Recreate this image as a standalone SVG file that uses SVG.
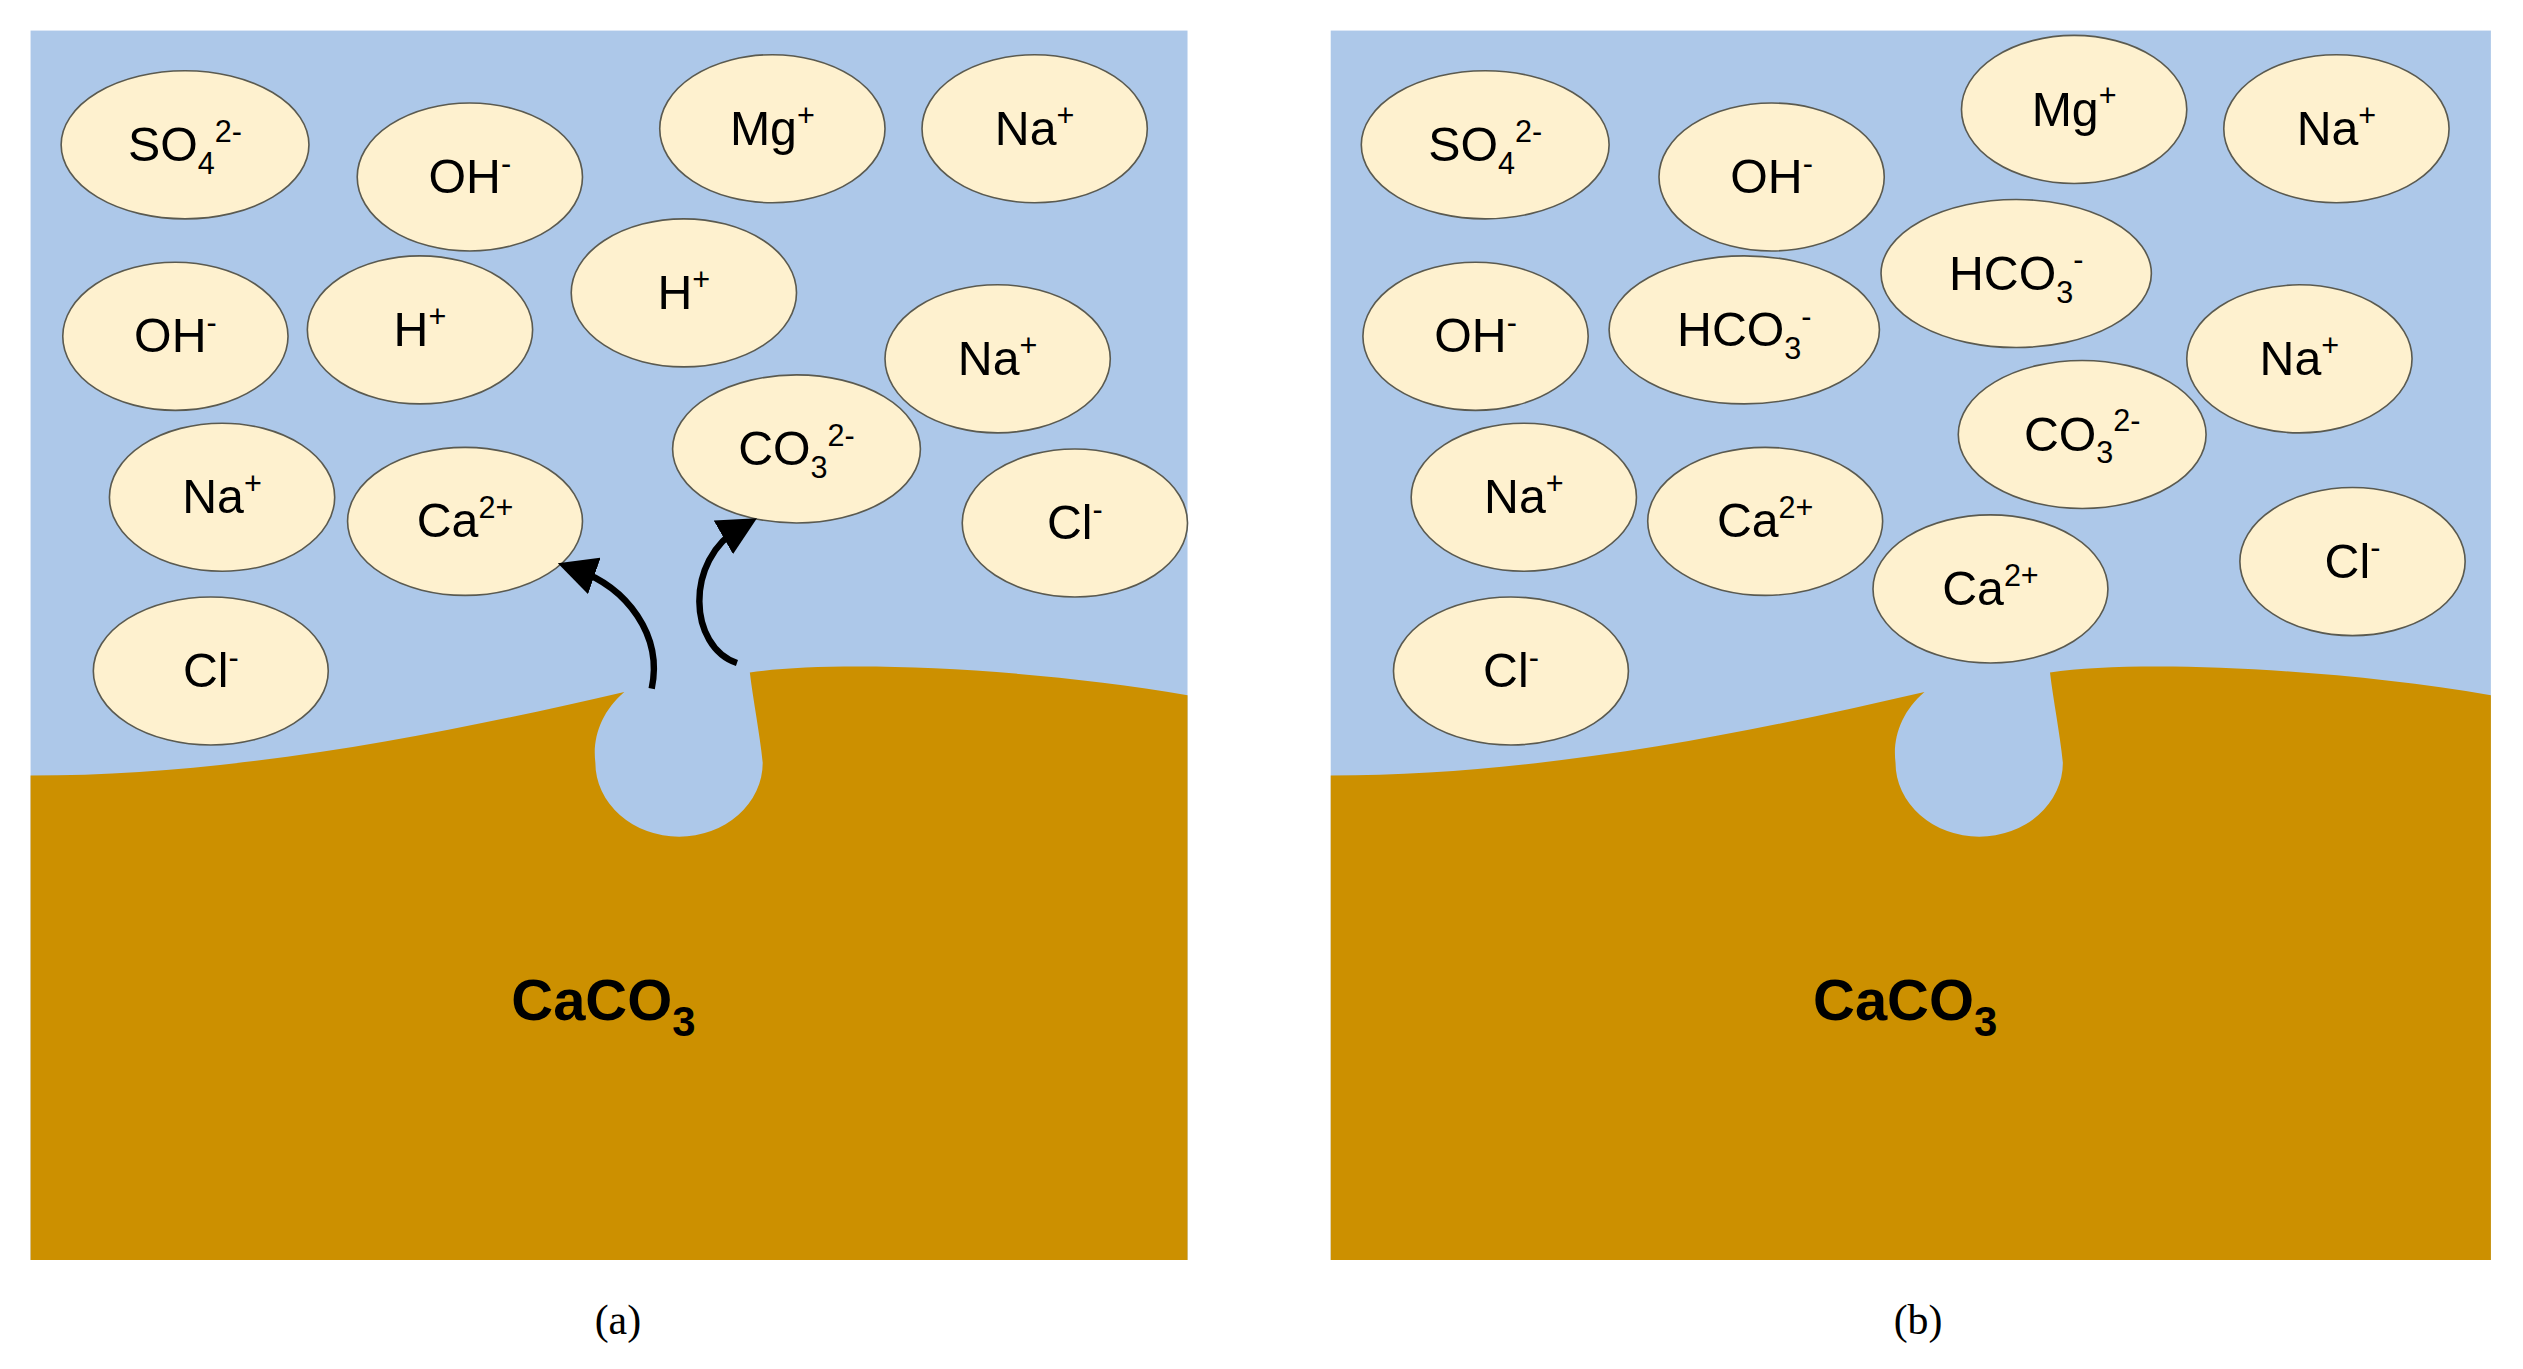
<svg xmlns="http://www.w3.org/2000/svg" width="2523" height="1369" viewBox="0 0 2523 1369">
<style>
.ion ellipse{fill:#fef1cf;stroke:#5a5a50;stroke-width:1}
.ion text{font-family:"Liberation Sans Narrow","Liberation Sans",Arial,sans-serif;font-size:30px;fill:#000;text-anchor:middle}
.s{font-size:19px}
.water{fill:#adc8e9}
.rock{fill:#cc9000}
.lbl{font-family:"Liberation Sans",Arial,sans-serif;font-weight:bold;font-size:36px;text-anchor:middle}
.cap{font-family:"Liberation Serif","Times New Roman",serif;font-size:26px;text-anchor:middle}
.arr{fill:none;stroke:#000;stroke-width:4;marker-end:url(#ah)}
</style>
<defs>
<marker id="ah" markerWidth="6" markerHeight="6" refX="3" refY="3" orient="auto" markerUnits="strokeWidth" viewBox="0 0 6 6"><path d="M0,0 L6,3 L0,6 Z" fill="#000"/></marker>
</defs>
<rect width="2523" height="1369" fill="#fff"/>
<g transform="scale(1.6091)">
<g id="panel-a">
<rect class="water" x="19" y="19" width="719" height="764"/>
<path class="rock" d="M19,482 C150,482 280,455 388,430 C374,442 368,458 370,474 A52,46 0 1 0 474,474 C472,455 468,435 466,418 C520,410 640,415 738,432 L738,783 L19,783 Z"/>
<text class="lbl" x="375" y="634">CaCO<tspan dy="10" font-size="26">3</tspan></text>
<text class="cap" x="384" y="829">(a)</text>
</g>
<g id="panel-b">
<rect class="water" x="827" y="19" width="721" height="764"/>
<path class="rock" d="M827,482 C958,482 1088,455 1196,430 C1182,442 1176,458 1178,474 A52,46 0 1 0 1282,474 C1280,455 1276,435 1274,418 C1328,410 1448,415 1548,432 L1548,783 L827,783 Z"/>
<text class="lbl" x="1184" y="634">CaCO<tspan dy="10" font-size="26">3</tspan></text>
<text class="cap" x="1192" y="829">(b)</text>
</g>
<g id="a-so4" class="ion"><ellipse cx="115" cy="90" rx="77" ry="46"/><text x="115" y="100">SO<tspan class="s" dy="8">4</tspan><tspan class="s" dy="-20">2-</tspan></text></g>
<g id="a-oh1" class="ion"><ellipse cx="292" cy="110" rx="70" ry="46"/><text x="292" y="120">OH<tspan class="s" dy="-12">-</tspan></text></g>
<g id="a-mg" class="ion"><ellipse cx="480" cy="80" rx="70" ry="46"/><text x="480" y="90">Mg<tspan class="s" dy="-12">+</tspan></text></g>
<g id="a-na1" class="ion"><ellipse cx="643" cy="80" rx="70" ry="46"/><text x="643" y="90">Na<tspan class="s" dy="-12">+</tspan></text></g>
<g id="a-oh2" class="ion"><ellipse cx="109" cy="209" rx="70" ry="46"/><text x="109" y="219">OH<tspan class="s" dy="-12">-</tspan></text></g>
<g id="a-h1" class="ion"><ellipse cx="261" cy="205" rx="70" ry="46"/><text x="261" y="215">H<tspan class="s" dy="-12">+</tspan></text></g>
<g id="a-h2" class="ion"><ellipse cx="425" cy="182" rx="70" ry="46"/><text x="425" y="192">H<tspan class="s" dy="-12">+</tspan></text></g>
<g id="a-na2" class="ion"><ellipse cx="620" cy="223" rx="70" ry="46"/><text x="620" y="233">Na<tspan class="s" dy="-12">+</tspan></text></g>
<g id="a-co3" class="ion"><ellipse cx="495" cy="279" rx="77" ry="46"/><text x="495" y="289">CO<tspan class="s" dy="8">3</tspan><tspan class="s" dy="-20">2-</tspan></text></g>
<g id="a-na3" class="ion"><ellipse cx="138" cy="309" rx="70" ry="46"/><text x="138" y="319">Na<tspan class="s" dy="-12">+</tspan></text></g>
<g id="a-ca" class="ion"><ellipse cx="289" cy="324" rx="73" ry="46"/><text x="289" y="334">Ca<tspan class="s" dy="-12">2+</tspan></text></g>
<g id="a-cl1" class="ion"><ellipse cx="668" cy="325" rx="70" ry="46"/><text x="668" y="335">Cl<tspan class="s" dy="-12">-</tspan></text></g>
<g id="a-cl2" class="ion"><ellipse cx="131" cy="417" rx="73" ry="46"/><text x="131" y="427">Cl<tspan class="s" dy="-12">-</tspan></text></g>

<g id="b-so4" class="ion"><ellipse cx="923" cy="90" rx="77" ry="46"/><text x="923" y="100">SO<tspan class="s" dy="8">4</tspan><tspan class="s" dy="-20">2-</tspan></text></g>
<g id="b-oh1" class="ion"><ellipse cx="1101" cy="110" rx="70" ry="46"/><text x="1101" y="120">OH<tspan class="s" dy="-12">-</tspan></text></g>
<g id="b-mg" class="ion"><ellipse cx="1289" cy="68" rx="70" ry="46"/><text x="1289" y="78">Mg<tspan class="s" dy="-12">+</tspan></text></g>
<g id="b-na1" class="ion"><ellipse cx="1452" cy="80" rx="70" ry="46"/><text x="1452" y="90">Na<tspan class="s" dy="-12">+</tspan></text></g>
<g id="b-oh2" class="ion"><ellipse cx="917" cy="209" rx="70" ry="46"/><text x="917" y="219">OH<tspan class="s" dy="-12">-</tspan></text></g>
<g id="b-hco1" class="ion"><ellipse cx="1084" cy="205" rx="84" ry="46"/><text x="1084" y="215">HCO<tspan class="s" dy="8">3</tspan><tspan class="s" dy="-20">-</tspan></text></g>
<g id="b-hco2" class="ion"><ellipse cx="1253" cy="170" rx="84" ry="46"/><text x="1253" y="180">HCO<tspan class="s" dy="8">3</tspan><tspan class="s" dy="-20">-</tspan></text></g>
<g id="b-na2" class="ion"><ellipse cx="1429" cy="223" rx="70" ry="46"/><text x="1429" y="233">Na<tspan class="s" dy="-12">+</tspan></text></g>
<g id="b-co3" class="ion"><ellipse cx="1294" cy="270" rx="77" ry="46"/><text x="1294" y="280">CO<tspan class="s" dy="8">3</tspan><tspan class="s" dy="-20">2-</tspan></text></g>
<g id="b-na3" class="ion"><ellipse cx="947" cy="309" rx="70" ry="46"/><text x="947" y="319">Na<tspan class="s" dy="-12">+</tspan></text></g>
<g id="b-ca1" class="ion"><ellipse cx="1097" cy="324" rx="73" ry="46"/><text x="1097" y="334">Ca<tspan class="s" dy="-12">2+</tspan></text></g>
<g id="b-ca2" class="ion"><ellipse cx="1237" cy="366" rx="73" ry="46"/><text x="1237" y="376">Ca<tspan class="s" dy="-12">2+</tspan></text></g>
<g id="b-cl1" class="ion"><ellipse cx="1462" cy="349" rx="70" ry="46"/><text x="1462" y="359">Cl<tspan class="s" dy="-12">-</tspan></text></g>
<g id="b-cl2" class="ion"><ellipse cx="939" cy="417" rx="73" ry="46"/><text x="939" y="427">Cl<tspan class="s" dy="-12">-</tspan></text></g>

<g id="connectors">
<path class="arr" d="M405,428 C412,395 390,365 358,354"/>
<path class="arr" d="M458,412 C428,402 425,348 460,328"/>
</g>
</g>
</svg>
